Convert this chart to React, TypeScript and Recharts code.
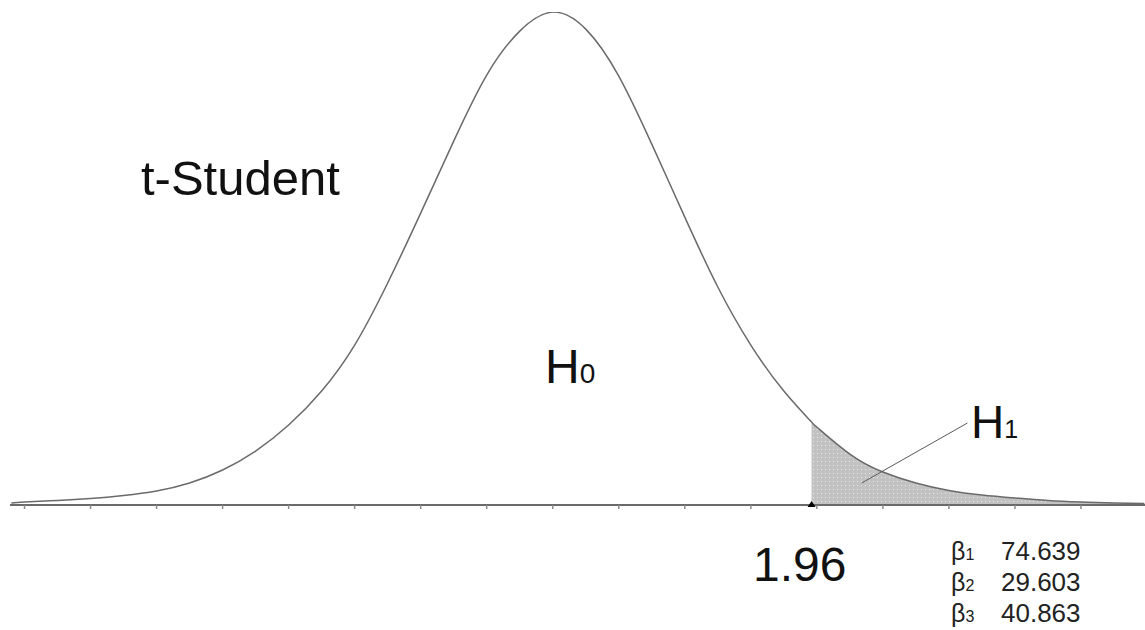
import React from 'react';
import { ComposedChart, Line, Area, XAxis, YAxis, ReferenceDot, ReferenceLine } from 'recharts';

// t value grid
const xValues = [-4.1, -4, -3.75, -3.5, -3.25, -3, -2.75, -2.5, -2.25, -2, -1.75, -1.5, -1.25, -1, -0.75, -0.5, -0.25, 0, 0.25, 0.5, 0.75, 1, 1.25, 1.5, 1.75, 1.96, 2, 2.25, 2.5, 2.75, 3, 3.25, 3.5, 3.75, 4, 4.25, 4.48];
// density values
const densityValues = [0.0016, 0.0024, 0.0036, 0.0052, 0.0076, 0.0112, 0.0176, 0.028, 0.0431, 0.0639, 0.0911, 0.1278, 0.1774, 0.2333, 0.2908, 0.3436, 0.3787, 0.3939, 0.3803, 0.3428, 0.2884, 0.2301, 0.1742, 0.1278, 0.0911, 0.0663, 0.0623, 0.0407, 0.0264, 0.0176, 0.0116, 0.008, 0.0056, 0.0036, 0.0024, 0.0016, 0.0012];
const axisTicks = [-4, -3.5, -3, -2.5, -2, -1.5, -1, -0.5, 0, 0.5, 1, 1.5, 2, 2.5, 3, 3.5, 4];
const criticalValue = 1.96;
const criticalLabel = '1.96';
const titleText = 't-Student';
const betaLabels = ['1', '2', '3'];
const betaValues = ['74.639', '29.603', '40.863'];
const leaderStart = { x: 2.34, y: 0.0176 };
const leaderEnd = { x: 3.14, y: 0.0655 };

const data = xValues.map((x, i) => ({
  x,
  y: densityValues[i],
  tail: x >= criticalValue ? densityValues[i] : null,
}));

const FONT = '"Liberation Sans", Arial, Helvetica, sans-serif';

const Marker = (p: any) => {
  const { cx, cy } = p;
  return <path d={`M${cx - 4},${cy + 2} L${cx + 4},${cy + 2} L${cx},${cy - 4} Z`} fill="#000" />;
};

export default function App() {
  return (
    <div style={{ position: 'absolute', left: 0, top: 0, width: 1145, height: 630, background: '#fff' }}>
      <ComposedChart width={1145} height={630} data={data} margin={{ top: 12, right: 0, bottom: 0, left: 10 }}>
        <defs>
          <pattern id="dots" width="4" height="4" patternUnits="userSpaceOnUse">
            <rect width="4" height="4" fill="#c2c2c2" />
            <rect x="1" y="1" width="1" height="1" fill="#e8e8e8" />
          </pattern>
        </defs>
        <XAxis
          dataKey="x"
          type="number"
          domain={[-4.11, 4.485]}
          allowDataOverflow
          ticks={axisTicks}
          tickFormatter={() => ''}
          height={125}
          axisLine={{ stroke: '#6a6a6a', strokeWidth: 2 }}
          tickLine={{ stroke: '#8a8a8a', strokeWidth: 1.5 }}
          tickSize={4}
        />
        <YAxis type="number" domain={[0, 0.394]} hide allowDataOverflow />
        <Area
          dataKey="tail"
          type="natural"
          fill="url(#dots)"
          fillOpacity={1}
          stroke="none"
          isAnimationActive={false}
          connectNulls={false}
          dot={false}
          activeDot={false}
        />
        <Line
          dataKey="y"
          type="natural"
          stroke="#6a6a6a"
          strokeWidth={1.5}
          dot={false}
          activeDot={false}
          isAnimationActive={false}
        />
        <ReferenceLine
          segment={[leaderStart, leaderEnd]}
          stroke="#5a5a5a"
          strokeWidth={1}
          ifOverflow="visible"
        />
        <ReferenceDot x={criticalValue} y={0} r={3} shape={Marker} ifOverflow="visible" />
      </ComposedChart>
      <svg
        width={1145}
        height={630}
        style={{ position: 'absolute', left: 0, top: 0, pointerEvents: 'none' }}
        fontFamily={FONT}
      >
        <text x={141} y={195} fontSize={49} fill="#111">{titleText}</text>
        <text x={545} y={383} fontSize={48} fill="#111">
          H<tspan fontSize={28}>0</tspan>
        </text>
        <text x={971} y={438} fontSize={46} fill="#111">
          H<tspan fontSize={25}>1</tspan>
        </text>
        <text x={753} y={581} fontSize={48} fill="#111">{criticalLabel}</text>
        {betaValues.map((v, i) => (
          <g key={i}>
            <text x={951} y={560 + i * 31} fontSize={25} fill="#222">
              β<tspan fontSize={16}>{betaLabels[i]}</tspan>
            </text>
            <text x={1001} y={560 + i * 31} fontSize={26} fill="#222">{v}</text>
          </g>
        ))}
      </svg>
    </div>
  );
}
